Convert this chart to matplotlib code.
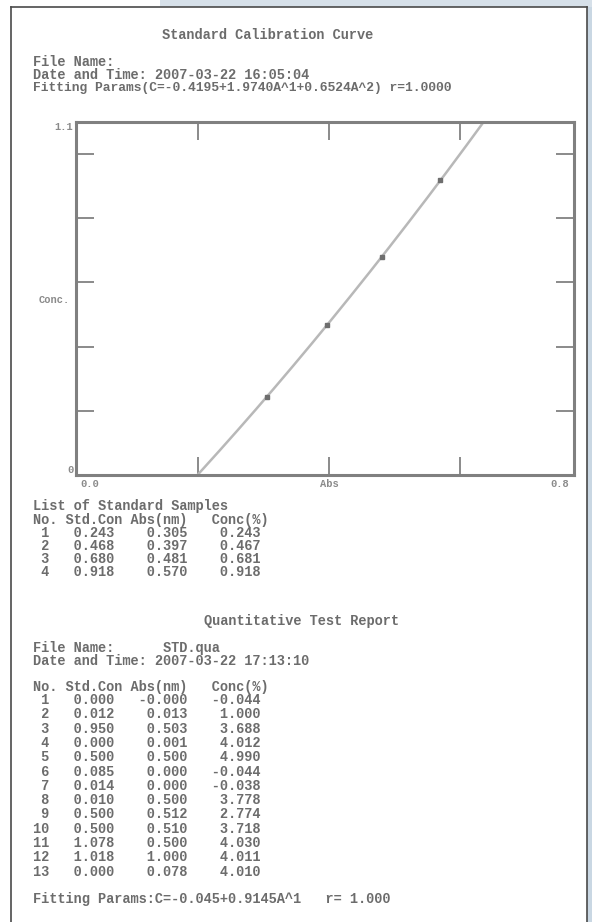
import numpy as np
import matplotlib
matplotlib.use('Agg')
import matplotlib.pyplot as plt
from matplotlib.patches import Rectangle
from matplotlib.lines import Line2D

W, H = 592, 922

# list of standard samples
std_no = [1, 2, 3, 4]
std_con = [0.243, 0.468, 0.680, 0.918]
std_abs = [0.305, 0.397, 0.481, 0.570]

# quantitative test report
smp_no = list(range(1, 14))
smp_con = [0.000, 0.012, 0.950, 0.000, 0.500, 0.085, 0.014, 0.010, 0.500, 0.500, 1.078, 1.018, 0.000]
smp_abs = [-0.000, 0.013, 0.503, 0.001, 0.500, 0.000, 0.000, 0.500, 0.512, 0.510, 0.500, 1.000, 0.078]
smp_conc = [-0.044, 1.000, 3.688, 4.012, 4.990, -0.044, -0.038, 3.778, 2.774, 3.718, 4.030, 4.011, 4.010]

header_date = "2007-03-22 16:05:04"
report_date = "2007-03-22 17:13:10"
report_file = "STD.qua"

FONT = 'Liberation Mono'
INK = '#6c6c6c'


def px(x, y):
    return x / W, 1 - y / H


def put(x, y, s, size=9.8, ha='left', color=INK):
    fx, fy = px(x, y)
    fig.text(fx, fy, s, ha=ha, va='center', fontfamily=FONT, fontweight='bold',
             fontsize=size, color=color)


fig = plt.figure(figsize=(W / 100, H / 100), dpi=100)
fig.patch.set_facecolor('white')

# window background peeking out around the page
fig.add_artist(Rectangle(px(160, 7), (W - 160) / W, 7 / H, transform=fig.transFigure,
                         facecolor='#d6e0e9', edgecolor='none'))
fig.add_artist(Rectangle(px(587, H), 5 / W, (H - 7) / H, transform=fig.transFigure,
                         facecolor='#c9d7e3', edgecolor='none'))
# page border
for xs, ys in [((11, 587), (7, 7)), ((11, 11), (7, H)), ((587, 587), (7, H))]:
    fig.add_artist(Line2D([x / W for x in xs], [1 - y / H for y in ys], transform=fig.transFigure,
                          color='#4a4a4a', lw=1.2))

# calibration fit (quadratic through standards)
coef = np.polyfit(std_abs, std_con, 2)
std_calc = np.polyval(coef, std_abs)
c, b, a = coef
r = np.corrcoef(std_calc, std_con)[0, 1]

# header
put(268, 35, "Standard Calibration Curve", ha='center')
put(33, 62, "File Name:")
put(33, 75, "Date and Time: " + header_date)
put(33, 88, f"Fitting Params(C={a:.4f}{b:+.4f}A^1{c:+.4f}A^2) r={r:.4f}", size=9.4)

# plot
ax = fig.add_axes([76 / W, 1 - 475 / H, (574 - 76) / W, (475 - 122) / H])
ax.set_xlim(0.014, 0.774)
ax.set_ylim(0, 1.1)
ax.set_xticks([0.2, 0.4, 0.6])
ax.set_yticks([0.2, 0.4, 0.6, 0.8, 1.0])
ax.tick_params(direction='in', length=13, width=1.4, color='#8a8a8a',
               top=True, right=True, labelleft=False, labelbottom=False)
for s in ax.spines.values():
    s.set_color('#808080')
    s.set_linewidth(2.2)

aa = np.linspace(0.15, 0.70, 300)
ax.plot(aa, np.polyval(coef, aa), color='#b8b8b8', lw=1.8, zorder=2)
ax.plot(std_abs, std_con, 's', ms=3.2, color='#6e6e6e', zorder=3)

# axis labels
put(64, 127, "1.1", size=7.5, ha='center', color='#8a8a8a')
put(54, 300, "Conc.", size=7.5, ha='center', color='#8a8a8a')
put(70, 470, "0", size=7.5, ha='center', color='#8a8a8a')
put(90, 484, "0.0", size=7.5, ha='center', color='#8a8a8a')
put(329, 484, "Abs", size=7.5, ha='center', color='#8a8a8a')
put(560, 484, "0.8", size=7.5, ha='center', color='#8a8a8a')

# standard samples table
put(33, 506, "List of Standard Samples")
put(33, 520, "No. Std.Con Abs(nm)   Conc(%)")
for i, (n, sc, sa, cc) in enumerate(zip(std_no, std_con, std_abs, std_calc)):
    put(33, 533 + i * 13, f"{n:>2}  {sc:6.3f}   {sa:6.3f}   {cc:6.3f}")

# quantitative test report
put(301, 621, "Quantitative Test Report", ha='center')
put(33, 648, "File Name:      " + report_file)
put(33, 661, "Date and Time: " + report_date)
put(33, 687, "No. Std.Con Abs(nm)   Conc(%)")
for i, (n, sc, sa, cc) in enumerate(zip(smp_no, smp_con, smp_abs, smp_conc)):
    put(33, 700 + i * 14.3, f"{n:>2}  {sc:6.3f}   {sa:6.3f}   {cc:6.3f}")

put(33, 899, "Fitting Params:C=-0.045+0.9145A^1   r= 1.000")

fig.savefig('out.png', dpi=100)
